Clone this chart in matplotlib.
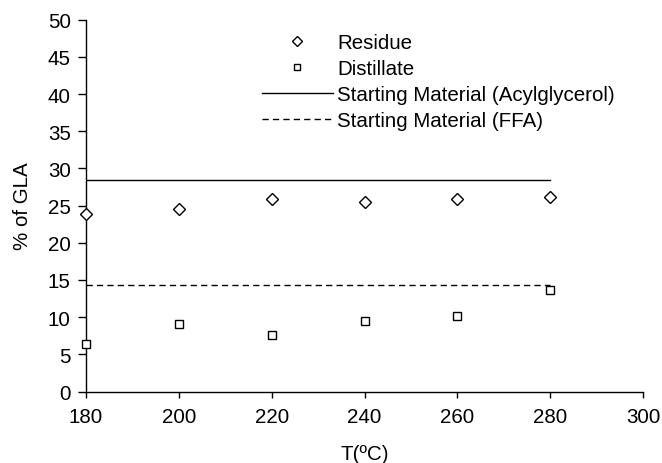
import matplotlib
matplotlib.use("Agg")
import matplotlib.pyplot as plt
from matplotlib.lines import Line2D

plt.rcParams['font.family'] = ['Liberation Sans', 'DejaVu Sans']

temps = [180, 200, 220, 240, 260, 280]
residue = [23.9, 24.6, 25.9, 25.5, 25.9, 26.2]
distillate = [6.4, 9.1, 7.6, 9.5, 10.1, 13.6]
start_acyl = 28.5
start_ffa = 14.3
x_ticks = [180, 200, 220, 240, 260, 280, 300]
y_ticks = [0, 5, 10, 15, 20, 25, 30, 35, 40, 45, 50]

FS = 14.8
W, H = 662, 464
fig = plt.figure(figsize=(W / 100, H / 100), dpi=100)
ax = fig.add_axes([86 / W, 1 - 392.5 / H, (643 - 86) / W, (392.5 - 20.7) / H])

dash = (0, (4.5, 3.0))
ax.plot([temps[0], temps[-1]], [start_acyl, start_acyl], color='black', lw=1.0)
ax.plot([temps[0], temps[-1]], [start_ffa, start_ffa], color='black', lw=1.0,
        linestyle=dash)
ax.plot(temps, residue, linestyle='none', marker='D', markersize=6.5,
        markerfacecolor='white', markeredgecolor='black', markeredgewidth=1.0,
        clip_on=False, zorder=5)
ax.plot(temps, distillate, linestyle='none', marker='s', markersize=5.6,
        markerfacecolor='white', markeredgecolor='black', markeredgewidth=1.0,
        clip_on=False, zorder=5)

ax.set_xlim(180, 300)
ax.set_ylim(0, 50)
ax.set_xticks(x_ticks)
ax.set_yticks(y_ticks)
for s in ['top', 'right']:
    ax.spines[s].set_visible(False)
for s in ['left', 'bottom']:
    ax.spines[s].set_linewidth(1.0)
ax.tick_params(axis='y', direction='out', length=6, width=1.0, labelsize=FS, pad=5)
ax.tick_params(axis='x', direction='out', length=4.3, width=1.0, labelsize=FS, pad=7)
ax.set_xlabel('T(ºC)', fontsize=FS, labelpad=13)
ax.set_ylabel('% of GLA', fontsize=FS, labelpad=11)

handles = [
    Line2D([], [], linestyle='none', marker='D', markersize=4.6, markerfacecolor='white',
           markeredgecolor='black', markeredgewidth=1.0),
    Line2D([], [], linestyle='none', marker='s', markersize=4.0, markerfacecolor='white',
           markeredgecolor='black', markeredgewidth=1.0),
    Line2D([], [], color='black', lw=1.0),
    Line2D([], [], color='black', lw=1.0, linestyle=dash),
]
labels = ['Residue', 'Distillate', 'Starting Material (Acylglycerol)', 'Starting Material (FFA)']
fig.legend(handles, labels, loc='upper left', bbox_to_anchor=(262 / W, 1 - 34 / H),
           frameon=False, fontsize=FS, handlelength=3.45, handletextpad=0.2,
           labelspacing=0.34, borderaxespad=0, borderpad=0)

fig.savefig('out.png', dpi=100)
